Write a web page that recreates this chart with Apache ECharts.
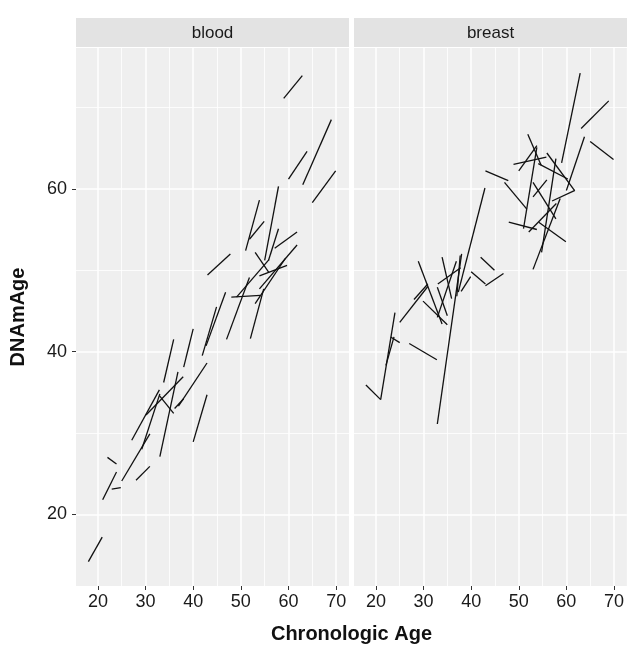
<!DOCTYPE html>
<html>
<head>
<meta charset="utf-8">
<script src="https://cdn.jsdelivr.net/npm/echarts@6/dist/echarts.min.js"></script>
<style>
  html, body { margin: 0; padding: 0; background: #fff; }
  #chart { width: 627px; height: 648px; }
</style>
</head>
<body>
<div id="chart"></div>
<script>
// facets
const panels = ['blood', 'breast']

// each segment: [age1, dnam1, age2, dnam2]
const bloodSegments = [
  [18.0, 14.2, 20.9, 17.2],
  [21.0, 21.8, 23.9, 25.2],
  [22.9, 23.1, 24.8, 23.3],
  [22.0, 27.0, 23.9, 26.2],
  [25.0, 24.1, 30.9, 29.9],
  [28.0, 24.2, 30.9, 25.9],
  [27.1, 29.1, 32.9, 35.3],
  [29.2, 28.0, 33.0, 34.8],
  [30.1, 32.2, 37.9, 36.9],
  [33.0, 27.1, 36.8, 37.5],
  [32.9, 34.6, 35.9, 32.4],
  [33.8, 36.2, 35.9, 41.5],
  [36.1, 33.0, 38.0, 34.2],
  [38.0, 38.1, 40.0, 42.8],
  [36.9, 33.3, 42.9, 38.6],
  [40.0, 28.9, 42.9, 34.7],
  [41.9, 39.5, 44.9, 45.5],
  [42.7, 40.7, 46.8, 47.3],
  [43.0, 49.4, 47.8, 52.0],
  [47.0, 41.5, 51.8, 49.1],
  [52.0, 41.6, 54.8, 47.7],
  [48.0, 46.7, 54.1, 46.9],
  [49.1, 46.7, 55.9, 51.3],
  [53.0, 45.9, 59.4, 51.5],
  [53.9, 47.7, 61.8, 53.1],
  [53.9, 49.3, 59.7, 50.6],
  [53.0, 52.2, 55.9, 49.7],
  [57.1, 52.7, 61.8, 54.7],
  [55.0, 51.2, 57.9, 60.3],
  [51.0, 52.4, 53.9, 58.6],
  [51.8, 53.8, 54.9, 56.0],
  [55.8, 51.2, 57.9, 55.1],
  [59.0, 71.1, 62.9, 73.9],
  [60.0, 61.2, 63.9, 64.6],
  [63.0, 60.5, 69.0, 68.5],
  [65.0, 58.3, 69.9, 62.2]
]

const breastSegments = [
  [59.0, 63.2, 62.9, 74.2],
  [63.1, 67.4, 68.9, 70.8],
  [65.0, 65.8, 69.9, 63.6],
  [60.0, 59.8, 63.8, 66.4],
  [51.9, 66.7, 54.7, 62.9],
  [50.0, 62.2, 53.8, 65.3],
  [48.9, 63.0, 55.8, 63.9],
  [55.9, 64.4, 61.7, 59.8],
  [54.1, 63.1, 60.3, 61.2],
  [57.0, 58.5, 61.8, 59.8],
  [43.0, 62.2, 47.8, 61.0],
  [47.0, 60.8, 51.7, 57.5],
  [53.0, 60.8, 57.8, 56.3],
  [53.0, 59.0, 55.9, 61.1],
  [51.0, 55.1, 53.8, 65.1],
  [54.8, 52.2, 57.8, 63.7],
  [53.0, 50.1, 58.7, 58.8],
  [47.9, 55.9, 53.8, 55.0],
  [52.1, 54.7, 57.9, 58.2],
  [54.2, 55.9, 59.9, 53.5],
  [37.3, 47.3, 42.9, 60.1],
  [42.0, 51.6, 44.9, 50.0],
  [40.0, 49.8, 43.0, 48.3],
  [43.0, 48.1, 46.8, 49.6],
  [37.9, 47.4, 39.9, 49.2],
  [33.9, 51.6, 35.9, 46.5],
  [33.0, 48.3, 37.8, 50.3],
  [32.9, 44.2, 36.9, 51.1],
  [28.9, 51.1, 33.9, 43.4],
  [32.9, 47.9, 35.0, 44.4],
  [28.0, 46.4, 30.9, 48.3],
  [25.0, 43.6, 30.9, 48.0],
  [29.9, 46.2, 35.0, 43.3],
  [32.9, 31.1, 38.0, 52.0],
  [37.0, 46.8, 37.7, 51.8],
  [27.0, 41.0, 32.8, 39.0],
  [21.0, 34.1, 24.0, 44.8],
  [17.9, 35.9, 21.0, 34.1],
  [23.1, 41.8, 25.0, 41.1],
  [22.1, 38.3, 23.8, 41.8]
]

const xTicks = [20, 30, 40, 50, 60, 70]
const xMinor = [25, 35, 45, 55, 65]
const yTicks = [20, 40, 60]
const yMinor = [30, 50, 70]
const xRange = [15.4, 72.7]
const yRange = [11.2, 77.3]

const FONT = '"Liberation Sans", Arial, Helvetica, sans-serif'
const panelLeft = [76, 354]
const panelWidth = 273
const panelTop = 48
const panelHeight = 538

const chart = echarts.init(document.getElementById('chart'), null, { renderer: 'canvas' })

let grids = [], xAxes = [], yAxes = [], series = [], graphics = []

panels.forEach((name, i) => {
  grids.push({
    left: panelLeft[i], top: panelTop, width: panelWidth, height: panelHeight,
    show: true, backgroundColor: '#EFEFEF', borderWidth: 0
  })
  // main axes: ticks, labels, major grid
  xAxes.push({
    type: 'value', gridIndex: i, min: xRange[0], max: xRange[1],
    axisLine: { show: false },
    axisTick: { show: true, length: 4, customValues: xTicks, lineStyle: { color: '#333', width: 1 } },
    axisLabel: { customValues: xTicks, color: '#1a1a1a', fontSize: 18, fontFamily: FONT, margin: 7 },
    splitLine: { show: true, lineStyle: { color: '#fff', width: 1.5 } }
  })
  // helper axes: minor grid only
  xAxes.push({
    type: 'value', gridIndex: i, min: xRange[0], max: xRange[1],
    axisLine: { show: false },
    axisTick: { show: false, customValues: xMinor },
    axisLabel: { show: false, customValues: xMinor },
    splitLine: { show: true, lineStyle: { color: '#fff', width: 0.8 } }
  })
  yAxes.push({
    type: 'value', gridIndex: i, min: yRange[0], max: yRange[1],
    axisLine: { show: false },
    axisTick: { show: i === 0, length: 4, customValues: yTicks, lineStyle: { color: '#333', width: 1 } },
    axisLabel: { show: i === 0, customValues: yTicks, color: '#1a1a1a', fontSize: 18, fontFamily: FONT, margin: 9 },
    splitLine: { show: true, lineStyle: { color: '#fff', width: 1.5 } }
  })
  yAxes.push({
    type: 'value', gridIndex: i, min: yRange[0], max: yRange[1],
    axisLine: { show: false },
    axisTick: { show: false, customValues: yMinor },
    axisLabel: { show: false, customValues: yMinor },
    splitLine: { show: true, lineStyle: { color: '#fff', width: 0.8 } }
  })

  const segs = i === 0 ? bloodSegments : breastSegments
  series.push({
    type: 'lines',
    coordinateSystem: 'cartesian2d',
    xAxisIndex: i * 2,
    yAxisIndex: i * 2,
    polyline: false,
    silent: true,
    lineStyle: { color: '#111', width: 1.3, opacity: 1, curveness: 0 },
    data: segs.map(s => ({ coords: [[s[0], s[1]], [s[2], s[3]]] }))
  })

  // facet strip
  graphics.push({
    type: 'rect',
    shape: { x: panelLeft[i], y: 18, width: panelWidth, height: 29 },
    style: { fill: '#E3E3E3' }
  })
  graphics.push({
    type: 'text',
    x: panelLeft[i] + panelWidth / 2, y: 33,
    style: { text: name, fill: '#1a1a1a', font: '17px ' + FONT, textAlign: 'center', textVerticalAlign: 'middle' }
  })
})

// axis titles
graphics.push({
  type: 'text', x: (panelLeft[0] + panelLeft[1] + panelWidth) / 2, y: 634,
  style: { text: 'Chronologic Age', fill: '#111', font: 'bold 20px ' + FONT, textAlign: 'center', textVerticalAlign: 'middle' }
})
graphics.push({
  type: 'text', x: 18, y: panelTop + panelHeight / 2, rotation: Math.PI / 2,
  style: { text: 'DNAmAge', fill: '#111', font: 'bold 20px ' + FONT, textAlign: 'center', textVerticalAlign: 'middle' }
})

chart.setOption({
  animation: false,
  backgroundColor: '#fff',
  grid: grids,
  xAxis: xAxes,
  yAxis: yAxes,
  series: series,
  graphic: graphics
})
</script>
</body>
</html>
